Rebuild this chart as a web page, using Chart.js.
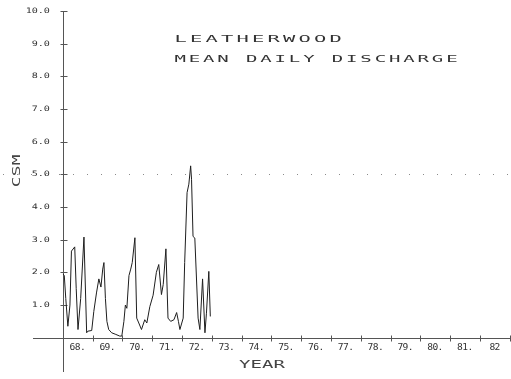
<!DOCTYPE html>
<html>
<head>
<meta charset="utf-8">
<script src="https://cdn.jsdelivr.net/npm/chart.js@4"></script>
<style>
  html, body { margin: 0; padding: 0; background: #fff; }
  #wrap { width: 511px; height: 379px; position: relative; }
</style>
</head>
<body>
<div id="wrap"><canvas id="chart_leatherwood"></canvas></div>
<script>
// decimal year of each plotted point
var years = [1968.01, 1968.05, 1968.10, 1968.17, 1968.24, 1968.29, 1968.40, 1968.45, 1968.51, 1968.60,
             1968.71, 1968.80, 1968.84, 1968.97, 1969.04, 1969.13, 1969.21, 1969.28, 1969.34, 1969.38,
             1969.43, 1969.48, 1969.54, 1969.64, 1969.78, 1969.91, 1969.98, 1970.05, 1970.10, 1970.15,
             1970.22, 1970.28, 1970.33, 1970.42, 1970.48, 1970.55, 1970.64, 1970.75, 1970.82, 1970.92,
             1971.03, 1971.14, 1971.22, 1971.31, 1971.37, 1971.46, 1971.53, 1971.62, 1971.73, 1971.82,
             1971.88, 1971.93, 1972.04, 1972.09, 1972.17, 1972.23, 1972.29, 1972.32, 1972.37, 1972.43,
             1972.54, 1972.60, 1972.69, 1972.77, 1972.82, 1972.90, 1972.95];
// mean daily discharge, CSM
var csm = [1.95, 1.9, 1.2, 0.35, 1.0, 2.65, 2.78, 1.5, 0.25, 1.2,
           3.08, 0.15, 0.2, 0.22, 0.8, 1.37, 1.8, 1.55, 2.1, 2.3,
           1.2, 0.5, 0.25, 0.15, 0.1, 0.05, 0.05, 0.5, 1.0, 0.9,
           1.9, 2.1, 2.3, 3.06, 0.6, 0.45, 0.25, 0.55, 0.45, 0.95,
           1.3, 2.0, 2.24, 1.32, 1.63, 2.72, 0.6, 0.5, 0.55, 0.77,
           0.5, 0.25, 0.6, 2.3, 4.44, 4.7, 5.26, 4.85, 3.1, 3.05,
           0.6, 0.25, 1.8, 0.15, 0.75, 2.03, 0.65];
var yTicks = [1, 2, 3, 4, 5, 6, 7, 8, 9, 10];
var yTickLabels = ['1.0', '2.0', '3.0', '4.0', '5.0', '6.0', '7.0', '8.0', '9.0', '10.0'];
var xYears = [1968, 1969, 1970, 1971, 1972, 1973, 1974, 1975, 1976, 1977, 1978, 1979, 1980, 1981, 1982];
var xTickLabels = ['68.', '69.', '70.', '71.', '72.', '73.', '74.', '75.', '76.', '77.', '78.', '79.', '80.', '81.', '82'];
var titleLines = ['LEATHERWOOD', 'MEAN DAILY DISCHARGE'];

var points = years.map(function (y, i) { return {x: y, y: csm[i]}; });

// plotter-ish lettering: fixed cell per character, stretched wide
function spaced(ctx, text, x, y, step, size, stretch, color) {
    ctx.save();
    ctx.font = size + 'px "DejaVu Sans Mono"';
    ctx.fillStyle = color;
    ctx.textAlign = 'center';
    ctx.textBaseline = 'middle';
    for (var i = 0; i < text.length; i++) {
        ctx.save();
        ctx.translate(x + step * (i + 0.5), y);
        ctx.scale(stretch, 1);
        ctx.fillText(text[i], 0, 0);
        ctx.restore();
    }
    ctx.restore();
}

var plotterAxes = {
    id: 'plotterAxes',
    beforeDatasetsDraw: function (chart) {
        var ctx = chart.ctx, xs = chart.scales.x, ys = chart.scales.y;
        var x0 = Math.round(xs.getPixelForValue(1968)) + 0.5;
        var y0 = Math.round(ys.getPixelForValue(0)) + 0.5;
        ctx.save();
        // sparse dotted line at 5.0
        var y5 = Math.round(ys.getPixelForValue(5)) + 0.5;
        ctx.strokeStyle = '#8a8a8a';
        ctx.lineWidth = 1;
        ctx.setLineDash([1, 13]);
        ctx.beginPath();
        ctx.moveTo(3, y5);
        ctx.lineTo(chart.width, y5);
        ctx.stroke();
        ctx.setLineDash([]);
        // axes
        ctx.strokeStyle = '#555';
        ctx.beginPath();
        ctx.moveTo(x0, chart.chartArea.top);
        ctx.lineTo(x0, chart.chartArea.bottom);
        ctx.moveTo(chart.chartArea.left, y0);
        ctx.lineTo(chart.chartArea.right, y0);
        yTicks.forEach(function (v) {
            var py = Math.round(ys.getPixelForValue(v)) + 0.5;
            ctx.moveTo(x0 - 3, py);
            ctx.lineTo(x0 + 4, py);
        });
        xYears.forEach(function (yr) {
            var px = Math.round(xs.getPixelForValue(yr + 1)) + 0.5;
            ctx.moveTo(px, y0 - 3);
            ctx.lineTo(px, y0 + 3);
        });
        ctx.stroke();
        ctx.restore();
    },
    afterDraw: function (chart) {
        var ctx = chart.ctx, xs = chart.scales.x, ys = chart.scales.y;
        var x0 = xs.getPixelForValue(1968);
        var y0 = ys.getPixelForValue(0);
        yTickLabels.forEach(function (t, i) {
            var py = ys.getPixelForValue(yTicks[i]);
            spaced(ctx, t, x0 - 13 - t.length * 6, py, 6, 7.5, 1.35, '#333');
        });
        xTickLabels.forEach(function (t, i) {
            var px = xs.getPixelForValue(xYears[i] + 0.5);
            spaced(ctx, t, px - t.length * 2.6, y0 + 10, 5.2, 8, 1.2, '#333');
        });
        spaced(ctx, titleLines[0], 173, 40, 15.5, 9.5, 2.15, '#333');
        spaced(ctx, titleLines[1], 173, 60, 14.3, 9.5, 2.0, '#333');
        spaced(ctx, 'YEAR', 239, 365.5, 11.5, 10, 1.9, '#444');
        ctx.save();
        ctx.translate(17, 171);
        ctx.rotate(-Math.PI / 2);
        spaced(ctx, 'CSM', -16.5, 0, 11, 10.5, 1.7, '#444');
        ctx.restore();
    }
};

var chart_leatherwood = new Chart(document.getElementById('chart_leatherwood'), {
    type: 'line',
    data: {
        datasets: [
            {
                label: 'Mean daily discharge',
                data: points,
                borderColor: '#1e1e1e',
                borderWidth: 1,
                pointRadius: 0,
                tension: 0,
                fill: false
            }
        ]
    },
    options: {
        animation: false,
        responsive: true,
        maintainAspectRatio: false,
        layout: {
            padding: {left: 33, right: 0, top: 11, bottom: 7}
        },
        plugins: {
            legend: {display: false},
            title: {display: false},
            tooltip: {enabled: false}
        },
        scales: {
            x: {
                type: 'linear',
                min: 1967,
                max: 1983.04,
                display: false
            },
            y: {
                type: 'linear',
                min: -1.05,
                max: 10,
                display: false
            }
        }
    },
    plugins: [plotterAxes]
});
</script>
</body>
</html>
